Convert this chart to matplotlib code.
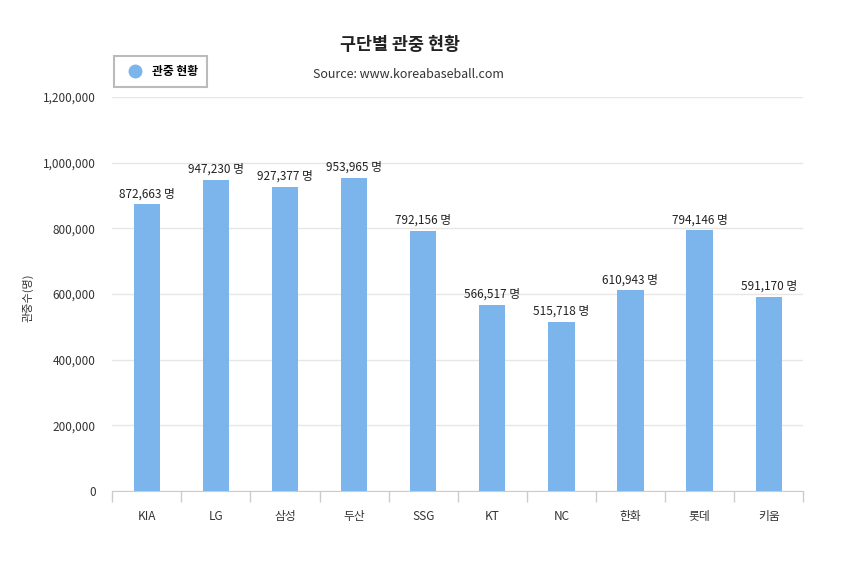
import matplotlib
matplotlib.use("Agg")
import matplotlib.pyplot as plt
from matplotlib.lines import Line2D
from matplotlib.ticker import FuncFormatter, FixedLocator

plt.rcParams['font.family'] = ['Noto Sans CJK KR', 'DejaVu Sans']

teams = ['KIA', 'LG', '삼성', '두산', 'SSG', 'KT', 'NC', '한화', '롯데', '키움']
attendance = [872663, 947230, 927377, 953965, 792156, 566517, 515718, 610943, 794146, 591170]
yticks = [0, 200000, 400000, 600000, 800000, 1000000, 1200000]

bar_color = '#7cb5ec'

fig = plt.figure(figsize=(8.5, 5.76), dpi=100)
ax = fig.add_axes([0.132, 0.1476, 0.813, 0.684])

x = list(range(len(teams)))
ax.bar(x, attendance, width=0.38, color=bar_color, zorder=3)
for xi, v in zip(x, attendance):
    ax.text(xi, v + 12000, f"{v:,} 명", ha='center', va='bottom', fontsize=8.5,
            color='#222222', fontweight='medium')

ax.set_xlim(-0.5, len(teams) - 0.5)
ax.set_ylim(0, 1200000)
ax.set_yticks(yticks)
ax.yaxis.set_major_formatter(FuncFormatter(lambda v, p: f"{int(v):,}"))
ax.grid(axis='y', color='#e6e6e6', linewidth=1, zorder=0)
ax.set_xticks(x)
ax.set_xticklabels(teams)
ax.xaxis.set_minor_locator(FixedLocator([i - 0.5 for i in range(len(teams) + 1)]))
ax.tick_params(axis='x', which='major', length=0, pad=14, labelsize=8.5, colors='#333333')
ax.tick_params(axis='x', which='minor', length=8, color='#cccccc', width=1)
ax.tick_params(axis='y', length=0, pad=12, labelsize=8.5, colors='#333333')
for s in ['top', 'right', 'left']:
    ax.spines[s].set_visible(False)
ax.spines['bottom'].set_color('#cccccc')
ax.set_ylabel('관중수(명)', fontsize=8, color='#333333')
ax.yaxis.set_label_coords(-0.114, 0.49)

fig.text(0.47, 0.922, '구단별 관중 현황', ha='center', va='center', fontsize=12.5,
         fontweight='bold', color='#222222')
fig.text(0.48, 0.871, 'Source: www.koreabaseball.com', ha='center', va='center',
         fontsize=9, color='#333333')

handle = Line2D([], [], marker='o', linestyle='', markersize=9, color=bar_color)
leg = fig.legend([handle], ['관중 현황'], loc='upper left', bbox_to_anchor=(0.134, 0.903),
                 frameon=True, fancybox=False, edgecolor='#aaaaaa',
                 handletextpad=0.5, borderpad=0.75, borderaxespad=0,
                 prop={'weight': 'bold', 'size': 8.5})
leg.get_frame().set_linewidth(1.5)

fig.savefig('out.png', dpi=100, facecolor='white')
